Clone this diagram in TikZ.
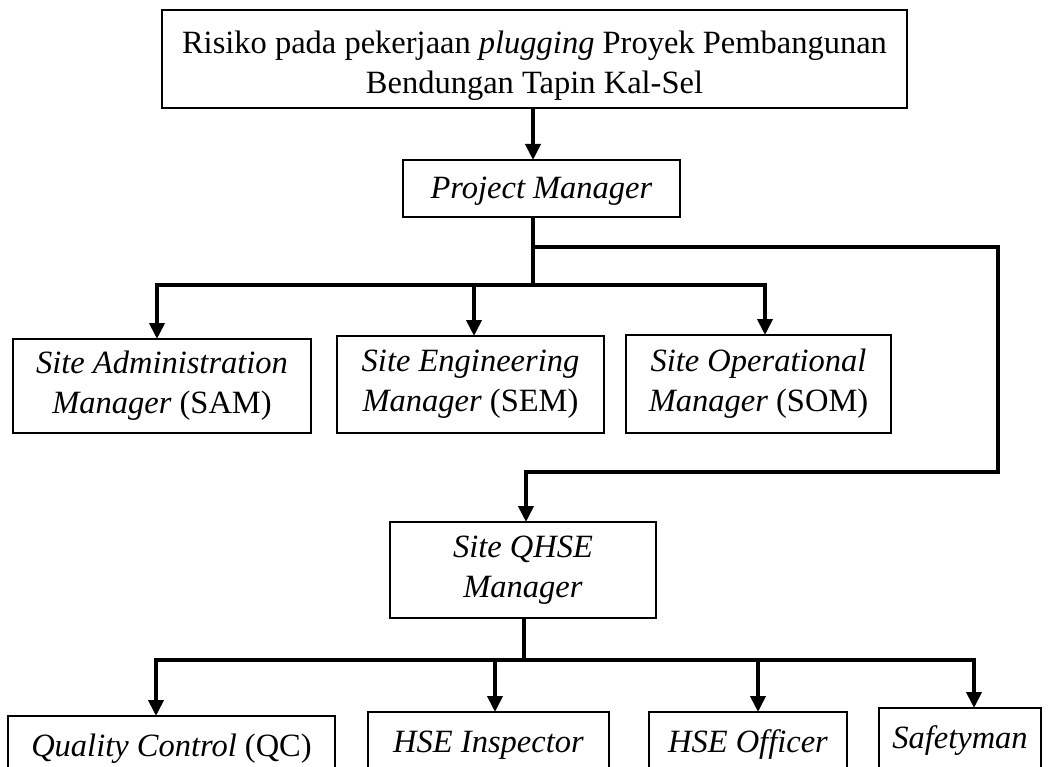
\documentclass[tikz,border=0pt]{standalone}
\usepackage{fontspec}
\setmainfont{Liberation Serif}
\usetikzlibrary{arrows.meta}

\begin{document}
\begin{tikzpicture}[x=1pt, y=-1pt,
  box/.style={draw, line width=1.2pt, inner sep=0pt, outer sep=0pt,
    align=center, font=\fontsize{32.5}{40}\selectfont},
  link/.style={line width=3.8pt},
  arrowlink/.style={link, -{Triangle[width=15pt,length=16pt]}},
]
\useasboundingbox (0,0) rectangle (1049,767);
\clip (0,0) rectangle (1049,767);

% boxes
\node[box, minimum width=745pt, minimum height=98pt] (top) at (534.5,59)
  {\rule{0pt}{37pt}Risiko pada pekerjaan \textit{plugging} Proyek Pembangunan\\Bendungan Tapin Kal-Sel};
\node[box, minimum width=277pt, minimum height=57pt] (pm) at (541.5,188.5)
  {\rule{0pt}{26pt}\textit{Project Manager}};

\node[box, minimum width=298pt, minimum height=94pt] (sam) at (162,386)
  {\textit{Site Administration}\\\textit{Manager} (SAM)};
\node[box, minimum width=267pt, minimum height=97pt] (sem) at (470.5,384.5)
  {\textit{Site Engineering}\\\textit{Manager} (SEM)};
\node[box, minimum width=265pt, minimum height=98pt] (som) at (758.5,384)
  {\textit{Site Operational}\\\textit{Manager} (SOM)};

\node[box, minimum width=266pt, minimum height=96pt] (qhse) at (523,570)
  {\textit{Site QHSE}\\\textit{Manager}};

\node[box, minimum width=327pt, minimum height=60pt] (qc) at (171.5,746)
  {\rule{0pt}{28pt}\textit{Quality Control} (QC)};
\node[box, minimum width=241pt, minimum height=60pt] (insp) at (488.5,742)
  {\rule{0pt}{28pt}\textit{HSE Inspector}};
\node[box, minimum width=198pt, minimum height=60pt] (off) at (748,742)
  {\rule{0pt}{28pt}\textit{HSE Officer}};
\node[box, minimum width=162pt, minimum height=60pt] (safe) at (960,738)
  {\rule{0pt}{28pt}\textit{Safetyman}};

% junctions of the connector tree
\coordinate (j1) at (533,247);
\coordinate (j2) at (533,285);
\coordinate (rd) at (998,472);
\coordinate (qj) at (524,660);

% connectors
\draw[arrowlink] (top.south -| j1) -- (pm.north -| j1);
\draw[link] (pm.south -| j1) -- (j2);
\draw[arrowlink] (j2) -| ([xshift=-5pt]sam.north);
\draw[arrowlink] (j2) -| ([xshift=3.5pt]sem.north);
\draw[arrowlink] (j2) -| ([xshift=6.5pt]som.north);
\draw[arrowlink] (j1) -| (rd) -| ([xshift=3pt]qhse.north);

\draw[link] (qhse.south -| qj) -- (qj);
\draw[arrowlink] (qj) -| ([xshift=-15.5pt]qc.north);
\draw[arrowlink] (qj) -| ([xshift=6.5pt]insp.north);
\draw[arrowlink] (qj) -| ([xshift=10pt]off.north);
\draw[arrowlink] (qj) -| ([xshift=14pt]safe.north);
\end{tikzpicture}
\end{document}
